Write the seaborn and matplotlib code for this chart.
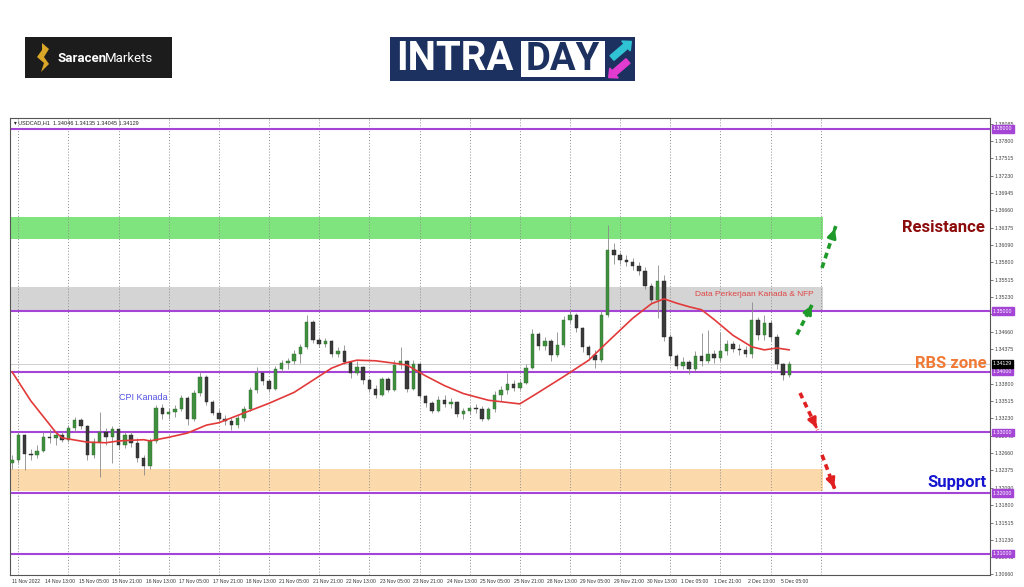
import numpy as np
import pandas as pd
import matplotlib
matplotlib.use("Agg")
import matplotlib.pyplot as plt
import matplotlib.transforms as mtransforms
from matplotlib.patches import Rectangle, Polygon, FancyArrow
import seaborn as sns

# USDCAD H1 chart, redrawn as 3-hour candles; prices in pips above 1.3000
opens_pips = [250, 255, 296, 265, 262, 270, 292, 290, 296, 288, 308, 320, 310, 262, 284, 300, 292, 306, 280, 296,
              282, 258, 244, 286, 340, 330, 334, 338, 356, 322, 365, 392, 350, 332, 322, 318, 312, 324, 338, 370,
              398, 384, 372, 404, 414, 418, 430, 440, 482, 452, 446, 450, 430, 434, 416, 398, 408, 386, 372, 362,
              388, 370, 411, 418, 372, 412, 360, 348, 336, 354, 346, 350, 330, 336, 340, 338, 322, 338, 362, 370,
              380, 374, 382, 406, 462, 442, 450, 428, 444, 486, 494, 472, 440, 428, 420, 494, 600, 592, 584, 580,
              574, 566, 542, 518, 550, 458, 426, 410, 416, 404, 426, 418, 430, 422, 434, 446, 438, 436, 430, 486,
              460, 480, 458, 412, 394]
highs_pips = [262, 300, 298, 272, 280, 300, 305, 300, 302, 312, 326, 324, 312, 290, 334, 308, 310, 308, 300, 302,
              290, 262, 290, 345, 346, 340, 345, 362, 360, 370, 400, 394, 354, 338, 328, 326, 328, 344, 375, 408,
              400, 388, 410, 420, 422, 436, 446, 494, 486, 458, 456, 452, 440, 444, 418, 418, 410, 390, 378, 392,
              392, 420, 440, 420, 420, 414, 362, 352, 360, 362, 356, 352, 340, 344, 346, 344, 342, 368, 376, 398,
              386, 386, 412, 470, 466, 458, 454, 466, 492, 504, 496, 474, 444, 436, 500, 642, 612, 598, 592, 588,
              580, 572, 546, 576, 560, 462, 430, 424, 420, 434, 464, 468, 436, 466, 452, 450, 446, 442, 515, 490,
              494, 486, 462, 414, 418]
lows_pips = [240, 250, 238, 255, 258, 268, 282, 280, 284, 285, 300, 305, 255, 258, 227, 280, 250, 272, 275, 276,
             252, 230, 240, 282, 322, 322, 326, 335, 312, 318, 360, 345, 328, 318, 312, 304, 308, 318, 335, 365,
             378, 366, 370, 400, 405, 412, 415, 438, 448, 440, 440, 424, 424, 412, 390, 394, 380, 366, 357, 360,
             366, 368, 405, 366, 370, 356, 342, 332, 334, 342, 340, 326, 322, 330, 332, 318, 320, 334, 352, 364,
             368, 370, 380, 404, 436, 436, 418, 424, 440, 480, 466, 432, 420, 406, 416, 490, 578, 578, 574, 568,
             560, 536, 512, 488, 450, 420, 404, 404, 396, 402, 410, 414, 414, 418, 428, 432, 428, 424, 422, 452,
             452, 450, 404, 386, 392]
closes_pips = [255, 296, 265, 262, 270, 292, 290, 296, 288, 308, 320, 310, 262, 284, 300, 292, 306, 280, 296, 282,
               258, 244, 286, 340, 330, 334, 338, 356, 322, 365, 392, 350, 332, 322, 318, 312, 324, 338, 370, 398,
               384, 372, 404, 414, 418, 430, 440, 482, 452, 446, 450, 430, 434, 416, 398, 408, 386, 372, 362, 388,
               370, 411, 418, 372, 412, 360, 348, 336, 354, 346, 350, 330, 336, 340, 338, 322, 338, 362, 370, 380,
               374, 382, 406, 462, 442, 450, 428, 444, 486, 494, 472, 440, 428, 420, 494, 600, 592, 584, 580, 574,
               566, 542, 518, 550, 458, 426, 410, 416, 404, 426, 418, 430, 422, 434, 446, 438, 436, 430, 486, 460,
               480, 458, 412, 394, 413]

# moving average (red line), read at selected candles
ma_idx = [0, 3, 7, 8, 12, 15, 17, 21, 22, 25, 28, 31, 33, 37, 41, 45, 48, 51, 53, 55, 58, 61, 63, 66, 69, 72,
          76, 81, 84, 88, 92, 95, 99, 102, 104, 106, 108, 110, 112, 115, 118, 120, 122, 124]
ma_pips = [400, 352, 300, 291, 284, 283, 286, 288, 286, 292, 299, 312, 316, 332, 348, 366, 386, 406, 414, 419, 418,
           414, 411, 393, 377, 364, 353, 347, 366, 392, 419, 449, 488, 512, 520, 513, 507, 502, 486, 460, 441, 436,
           439, 436]

x_labels = ["11 Nov 2022", "14 Nov 13:00", "15 Nov 05:00", "15 Nov 21:00", "16 Nov 13:00", "17 Nov 05:00",
            "17 Nov 21:00", "18 Nov 13:00", "21 Nov 05:00", "21 Nov 21:00", "22 Nov 13:00", "23 Nov 05:00",
            "23 Nov 21:00", "24 Nov 13:00", "25 Nov 05:00", "25 Nov 21:00", "28 Nov 13:00", "29 Nov 05:00",
            "29 Nov 21:00", "30 Nov 13:00", "1 Dec 05:00", "1 Dec 21:00", "2 Dec 13:00", "5 Dec 05:00"]
# 1.34090 sits fully under the price boxes in the original, so it is left out
y_labels = ["1.38085", "1.37800", "1.37515", "1.37230", "1.36945", "1.36660", "1.36375", "1.36090", "1.35800",
            "1.35515", "1.35230", "1.34945", "1.34660", "1.34375", "1.33800", "1.33515", "1.33230",
            "1.32945", "1.32660", "1.32375", "1.32090", "1.31800", "1.31515", "1.31230", "1.30945", "1.30660"]
level_lines = [1.38, 1.35, 1.34, 1.33, 1.32, 1.31]
last_price = 1.34129
zone_low = [1.3619, 1.3500, 1.3203]
zone_high = [1.3655, 1.3540, 1.3240]
zone_colors = ["#80e47e", "#d4d4d4", "#fcd9ab"]

# ---- build frame ----
candles = pd.DataFrame({"open": opens_pips, "high": highs_pips, "low": lows_pips, "close": closes_pips})
candles = 1.3 + candles / 10000.0
candles["idx"] = np.arange(len(candles))
ma = pd.DataFrame({"idx": ma_idx, "ma": 1.3 + np.array(ma_pips) / 10000.0})

sns.set_style("white")
plt.rcParams["font.family"] = ["DejaVu Sans"]

purple = "#a445d6"
tick_font = ["Liberation Sans", "DejaVu Sans"]
fig = plt.figure(figsize=(10.24, 5.87), dpi=100)
ax = fig.add_axes([10 / 1024, 12 / 587, 980 / 1024, 457 / 587])
ax.set_xlim(-0.32, 156.0)
ax.set_ylim(1.30651, 1.38180)

# zones end at the future edge
zone_end = 129.3
for lo, hi, col in zip(zone_low, zone_high, zone_colors):
    ax.add_patch(Rectangle((-0.32, lo), zone_end + 0.32, hi - lo, facecolor=col, edgecolor="none", zorder=0.5))

# day separators
for k in range(17):
    ax.axvline(1 + 8 * k, color="#8c8c8c", ls=(0, (1, 2)), lw=0.7, zorder=0.6)

for lvl in level_lines:
    ax.axhline(lvl, color=purple, lw=1.5, zorder=1.5)
ax.axhline(last_price, color="#c8c8c8", lw=0.6, zorder=1.4)

# candles
bull = candles["close"] >= candles["open"]
ax.vlines(candles["idx"], candles["low"], candles["high"], color="#8a8a8a", lw=0.6, zorder=3)
body_bottom = candles[["open", "close"]].min(axis=1)
body_h = (candles["close"] - candles["open"]).abs().clip(lower=0.00004)
ax.bar(candles["idx"][bull], body_h[bull], bottom=body_bottom[bull], width=0.55,
       color="#3f8f3f", edgecolor="#2d6e2d", lw=0.3, zorder=4)
ax.bar(candles["idx"][~bull], body_h[~bull], bottom=body_bottom[~bull], width=0.55,
       color="#3a3a3a", edgecolor="#222222", lw=0.3, zorder=4)

sns.lineplot(data=ma, x="idx", y="ma", ax=ax, color="#e23a3a", lw=1.2, zorder=5)
ax.set_xlabel("")
ax.set_ylabel("")

# axes ticks, MT4 style
ax.set_xticks([16 * k / 3 for k in range(len(x_labels))])
ax.set_xticklabels(x_labels, ha="left", family=tick_font)
ax.tick_params(axis="x", length=2, width=0.5, pad=1, labelsize=3.6, colors="#333333")
ax.yaxis.tick_right()
ax.set_yticks([float(s) for s in y_labels])
ax.set_yticklabels(y_labels, family=tick_font)
ax.tick_params(axis="y", length=2, width=0.5, pad=1.5, labelsize=3.8, colors="#444444")
for sp in ax.spines.values():
    sp.set_color("#555555")
    sp.set_linewidth(0.8)

trans = mtransforms.blended_transform_factory(ax.transAxes, ax.transData)
for lvl in level_lines:
    ax.text(1.003, lvl, f"{lvl:.5f}", transform=trans, ha="left", va="center", fontsize=3.8, color="white",
            family=tick_font, zorder=10, bbox=dict(boxstyle="square,pad=0.22", fc=purple, ec=purple),
            clip_on=False)
ax.text(1.003, last_price, f"{last_price:.5f}", transform=trans, ha="left", va="center", fontsize=3.8,
        color="white", family=tick_font, zorder=10, bbox=dict(boxstyle="square,pad=0.22", fc="black", ec="black"),
        clip_on=False)

ax.text(0.004, 0.995, "\u25be USDCAD,H1  1.34046 1.34135 1.34045 1.34129", transform=ax.transAxes,
        fontsize=4.0, va="top", ha="left", color="#222222", family=tick_font)

ax.text(21.0, 1.3358, "CPI Kanada", fontsize=6.5, color="#5252e0", ha="center", va="center",
        family=["Liberation Sans"], zorder=6)
ax.text(108.9, 1.3528, "Data Perkerjaan Kanada & NFP", fontsize=6, color="#e04545", ha="left", va="center",
        family=["Liberation Sans"], zorder=6)

# dashed scenario arrows
arrows = [((129.2, 1.3571), (131.4, 1.3640), "#1f9a2a"),
          ((125.2, 1.3461), (127.6, 1.3510), "#1f9a2a"),
          ((125.7, 1.3365), (128.5, 1.3304), "#e02020"),
          ((129.2, 1.3263), (131.3, 1.3205), "#e02020")]
for (x0, y0), (x1, y1), col in arrows:
    ax.plot([x0, x1], [y0, y1], color=col, lw=2.6, ls=(0, (1.6, 1.2)), solid_capstyle="butt", zorder=7)
    ax.annotate("", xy=(x1, y1), xytext=(x0 + 0.85 * (x1 - x0), y0 + 0.85 * (y1 - y0)),
                arrowprops=dict(arrowstyle="-|>,head_width=0.25,head_length=0.5", color=col, lw=2.2), zorder=7)

# overlay in pixel coordinates for logos and labels
ov = fig.add_axes([0, 0, 1, 1], zorder=5)
ov.set_xlim(0, 1024)
ov.set_ylim(587, 0)
ov.axis("off")
ov.patch.set_alpha(0)

ov.text(985, 227, "Resistance", fontsize=12, fontweight="bold", family=["Roboto"], color="#8c0c0c",
        ha="right", va="center")
ov.text(987, 364, "RBS zone", fontsize=12, fontweight="bold", family=["Roboto"], color="#f07a35",
        ha="right", va="center")
ov.text(987, 482, "Support", fontsize=12, fontweight="bold", family=["Roboto"], color="#1515d0",
        ha="right", va="center")

# Saracen Markets logo
ov.add_patch(Rectangle((25, 37), 147, 41, facecolor="#1c1c1c", edgecolor="none"))
ov.add_patch(Polygon([(42, 43), (49, 49), (44, 57), (49, 64), (41, 72), (44, 63), (37, 57), (42, 50)],
                     closed=True, facecolor="#d9a628", edgecolor="none"))
ov.text(57, 58, "Saracen", fontsize=9.5, fontweight="bold", family=["Roboto"], color="white", ha="left",
        va="center")
ov.text(105, 58, "Markets", fontsize=9.5, family=["Roboto"], color="white", ha="left", va="center")

# INTRADAY logo
ov.add_patch(Rectangle((390, 37), 245, 44, facecolor="#1c3160", edgecolor="none"))
ov.text(396, 59, "INTRA", fontsize=29, fontweight="bold", family=["Roboto"], color="white", ha="left",
        va="center")
ov.add_patch(Rectangle((521, 41), 84, 36, facecolor="white", edgecolor="none"))
ov.text(563, 59, "DAY", fontsize=27.5, fontweight="bold", family=["Roboto"], color="#1c3160", ha="center",
        va="center")
ov.add_patch(FancyArrow(612, 58, 14, -12, width=6, head_width=13, head_length=7, color="#2fc3d3",
                        length_includes_head=False))
ov.add_patch(FancyArrow(628, 61, -14, 12, width=6, head_width=13, head_length=7, color="#e23bcf",
                        length_includes_head=False))

fig.savefig("out.png", dpi=100)
